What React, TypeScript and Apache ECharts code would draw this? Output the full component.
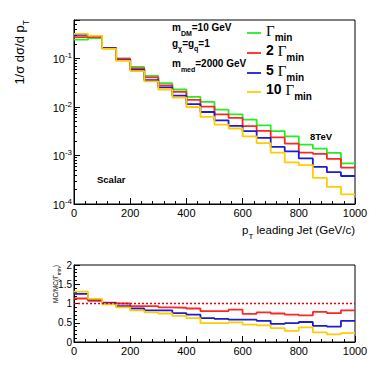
import React, { useEffect, useRef } from "react";
import * as echarts from "echarts";

// ---- data ----
const binEdges = [0, 50, 100, 150, 200, 250, 300, 350, 400, 450, 500, 550, 600, 650, 700, 750, 800, 850, 900, 950];
const binUpper = 1000;

const gamma1 = [0.244, 0.262, 0.161, 0.099, 0.067, 0.0437, 0.0309, 0.0229, 0.0161, 0.0127, 0.00883, 0.00706, 0.00549, 0.00419, 0.00319, 0.00248, 0.00167, 0.00138, 0.00113, 0.000687];
const gamma2 = [0.276, 0.28, 0.164, 0.099, 0.0623, 0.0406, 0.0278, 0.0204, 0.014, 0.0102, 0.00706, 0.00593, 0.00401, 0.00323, 0.00236, 0.00176, 0.00115, 0.00108, 0.000848, 0.000563];
const gamma5 = [0.305, 0.288, 0.163, 0.0921, 0.0583, 0.0358, 0.0253, 0.0172, 0.0114, 0.00787, 0.0053, 0.00409, 0.00318, 0.0023, 0.0015, 0.00122, 0.000868, 0.00058, 0.000452, 0.000378];
const gamma10 = [0.32, 0.293, 0.158, 0.0891, 0.0549, 0.0336, 0.0229, 0.0156, 0.00998, 0.00622, 0.00433, 0.0036, 0.00247, 0.0018, 0.00115, 0.000719, 0.000635, 0.000345, 0.000226, 0.000158];

const ratio2 = [1.13, 1.07, 1.02, 1.0, 0.93, 0.93, 0.9, 0.89, 0.87, 0.8, 0.8, 0.84, 0.73, 0.77, 0.74, 0.71, 0.69, 0.78, 0.75, 0.82];
const ratio5 = [1.25, 1.1, 1.01, 0.93, 0.87, 0.82, 0.82, 0.75, 0.71, 0.62, 0.6, 0.58, 0.58, 0.55, 0.47, 0.49, 0.52, 0.42, 0.4, 0.55];
const ratio10 = [1.31, 1.12, 0.98, 0.9, 0.82, 0.77, 0.74, 0.68, 0.62, 0.49, 0.49, 0.51, 0.45, 0.43, 0.36, 0.29, 0.38, 0.25, 0.2, 0.23];

const refX = [0, 1000];
const refY = [1, 1];

const legendNames = ["Γmin", "2 Γmin", "5 Γmin", "10 Γmin"];
const legendPrefix = ["", "2 ", "5 ", "10 "];

// ---- styling ----
const FONT = "Liberation Sans";
const C_GREEN = "#22ee22";
const C_RED = "#ff2626";
const C_BLUE = "#1c1cd6";
const C_YELLOW = "#ffcc00";
const colors = [C_GREEN, C_RED, C_BLUE, C_YELLOW];

function steps(values: number[]) {
  const pts: number[][] = binEdges.map((e, i) => [e, values[i]]);
  pts.push([binUpper, values[values.length - 1]]);
  return pts;
}

function histSeries(name: string, values: number[], color: string, axis: number) {
  return {
    name,
    type: "line",
    step: "end",
    xAxisIndex: axis,
    yAxisIndex: axis,
    symbol: "none",
    data: steps(values),
    lineStyle: { color, width: 1.8 },
    itemStyle: { color },
    z: 3,
  };
}

const subRich = (main: number, sub: number, pad: number, bold: boolean) => ({
  a: { fontFamily: FONT, fontSize: main, fontWeight: bold ? "bold" : "normal", color: "#000", lineHeight: main + 2, verticalAlign: "top" },
  s: { fontFamily: FONT, fontSize: sub, fontWeight: bold ? "bold" : "normal", color: "#000", lineHeight: sub, padding: [pad, 0, 0, 0], verticalAlign: "top" },
});

const legendY = [33, 53, 73, 92];

const legendGraphics: any[] = [];
legendNames.forEach((n, i) => {
  legendGraphics.push({
    type: "line",
    shape: { x1: 247, y1: legendY[i], x2: 261, y2: legendY[i] },
    style: { stroke: colors[i], lineWidth: 1.8 },
  });
  const pre = legendPrefix[i];
  legendGraphics.push({
    type: "text",
    x: 266,
    y: legendY[i] - 10,
    style: {
      text: (pre ? `{n|${pre}}` : "") + "{g|Γ}{s|min}",
      rich: {
        n: { fontFamily: FONT, fontSize: 14, fontWeight: "bold", color: "#000", lineHeight: 16, verticalAlign: "top" },
        g: { fontFamily: "Liberation Serif", fontSize: 15, color: "#000", lineHeight: 16, verticalAlign: "top" },
        s: { fontFamily: FONT, fontSize: 10, fontWeight: "bold", color: "#000", lineHeight: 9, padding: [9, 0, 0, 0], verticalAlign: "top" },
      },
      verticalAlign: "top",
      align: "left",
    },
  });
});

const option: any = {
  animation: false,
  backgroundColor: "#fff",
  grid: [
    { left: 74, top: 20, width: 281, height: 184, show: true, borderColor: "#000", borderWidth: 1, backgroundColor: "transparent" },
    { left: 74, top: 265, width: 281, height: 77, show: true, borderColor: "#000", borderWidth: 1, backgroundColor: "transparent" },
  ],
  xAxis: [0, 1].map((g) => ({
    type: "value",
    gridIndex: g,
    min: 0,
    max: 1000,
    interval: 200,
    axisLine: { show: true, lineStyle: { color: "#000", width: 1 } },
    axisTick: { show: true, inside: true, length: 6, lineStyle: { color: "#000" } },
    minorTick: { show: true, splitNumber: 5, length: 3, lineStyle: { color: "#000" } },
    splitLine: { show: false },
    axisLabel: { fontFamily: FONT, fontSize: 11, color: "#000", margin: 3, formatter: (v: number) => String(v) },
  })),
  yAxis: [
    {
      type: "log",
      gridIndex: 0,
      logBase: 10,
      min: 0.0001,
      max: 0.62,
      axisLine: { show: true, lineStyle: { color: "#000", width: 1 } },
      axisTick: { show: true, inside: true, length: 6, lineStyle: { color: "#000" } },
      minorTick: { show: true, splitNumber: 9, length: 3, lineStyle: { color: "#000" } },
      splitLine: { show: false },
      axisLabel: {
        margin: 2,
        formatter: (v: number) => {
          const l = Math.log10(v);
          const e = Math.round(l);
          if (Math.abs(l - e) > 1e-6) return "";
          return `{b|10}{e|${e}}`;
        },
        rich: {
          b: { fontFamily: FONT, fontSize: 11, color: "#000", lineHeight: 13, verticalAlign: "bottom" },
          e: { fontFamily: FONT, fontSize: 8, color: "#000", lineHeight: 8, verticalAlign: "top" },
        },
      },
    },
    {
      type: "value",
      gridIndex: 1,
      min: 0,
      max: 2,
      interval: 0.5,
      axisLine: { show: true, lineStyle: { color: "#000", width: 1 } },
      axisTick: { show: true, inside: true, length: 6, lineStyle: { color: "#000" } },
      minorTick: { show: true, splitNumber: 5, length: 3, lineStyle: { color: "#000" } },
      splitLine: { show: false },
      axisLabel: { fontFamily: FONT, fontSize: 10, color: "#000", margin: 2, formatter: (v: number) => String(v) },
    },
  ],
  series: [
    histSeries(legendNames[0], gamma1, C_GREEN, 0),
    histSeries(legendNames[1], gamma2, C_RED, 0),
    histSeries(legendNames[2], gamma5, C_BLUE, 0),
    histSeries(legendNames[3], gamma10, C_YELLOW, 0),
    histSeries("ratio 2 Γmin", ratio2, C_RED, 1),
    histSeries("ratio 5 Γmin", ratio5, C_BLUE, 1),
    histSeries("ratio 10 Γmin", ratio10, C_YELLOW, 1),
    {
      name: "ratio Γmin",
      type: "line",
      xAxisIndex: 1,
      yAxisIndex: 1,
      symbol: "none",
      data: refX.map((x, i) => [x, refY[i]]),
      lineStyle: { color: "#ee0000", width: 1.5, type: [2, 2] },
      z: 4,
    },
  ],
  graphic: [
    {
      type: "text",
      x: 20,
      y: 20,
      rotation: Math.PI / 2,
      style: {
        text: "{a|1/σ dσ/d p}{s|T}",
        rich: {
          a: { fontFamily: FONT, fontSize: 13, color: "#000", lineHeight: 15, verticalAlign: "top" },
          s: { fontFamily: FONT, fontSize: 8.5, color: "#000", lineHeight: 8, padding: [9, 0, 0, 0], verticalAlign: "top" },
        },
        align: "right",
        verticalAlign: "middle",
      },
    },
    {
      type: "text",
      x: 355,
      y: 224,
      style: {
        text: "{a|p}{s|T}{a| leading Jet (GeV/c)}",
        rich: {
          a: { fontFamily: FONT, fontSize: 11.5, color: "#000", lineHeight: 14, verticalAlign: "top" },
          s: { fontFamily: FONT, fontSize: 8, color: "#000", lineHeight: 8, padding: [8, 0, 0, 0], verticalAlign: "top" },
        },
        align: "right",
        verticalAlign: "top",
      },
    },
    {
      type: "text",
      x: 56,
      y: 265,
      rotation: Math.PI / 2,
      style: {
        text: "{a|MC/MC(Γ}{s|min}{a|)}",
        rich: {
          a: { fontFamily: FONT, fontSize: 6.5, color: "#000", lineHeight: 8, verticalAlign: "top" },
          s: { fontFamily: FONT, fontSize: 5, color: "#000", lineHeight: 5, padding: [4, 0, 0, 0], verticalAlign: "top" },
        },
        align: "right",
        verticalAlign: "middle",
      },
    },
    {
      type: "text",
      x: 172,
      y: 22.5,
      style: { text: "{a|m}{s|DM}{a|=10 GeV}", rich: subRich(10, 7, 7, true), verticalAlign: "top" },
    },
    {
      type: "text",
      x: 172,
      y: 38,
      style: { text: "{a|g}{s|χ}{a|=g}{s|q}{a|=1}", rich: subRich(10, 7, 7, true), verticalAlign: "top" },
    },
    {
      type: "text",
      x: 172,
      y: 58.5,
      style: { text: "{a|m}{s|med}{a|=2000 GeV}", rich: subRich(10, 7, 7, true), verticalAlign: "top" },
    },
    {
      type: "text",
      x: 310,
      y: 136,
      style: { text: "8TeV", fontFamily: FONT, fontSize: 9.5, fontWeight: "bold", fill: "#000", verticalAlign: "middle" },
    },
    {
      type: "text",
      x: 97,
      y: 179.5,
      style: { text: "Scalar", fontFamily: FONT, fontSize: 9.5, fontWeight: "bold", fill: "#000", verticalAlign: "middle" },
    },
    ...legendGraphics,
  ],
};

export default function App() {
  const ref = useRef<HTMLDivElement>(null);
  useEffect(() => {
    const chart = echarts.init(ref.current as HTMLDivElement, undefined, { renderer: "svg" });
    chart.setOption(option);
    return () => chart.dispose();
  }, []);
  return (
    <div
      ref={ref}
      style={{ position: "fixed", left: 0, top: 0, width: 374, height: 365, background: "#fff" }}
    />
  );
}
